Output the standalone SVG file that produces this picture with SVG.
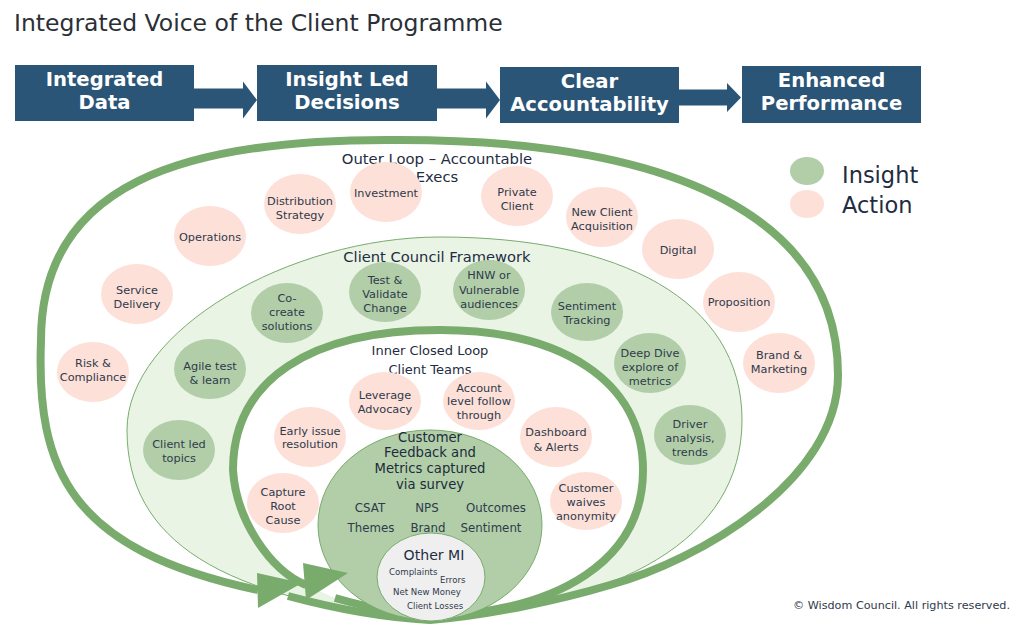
<svg xmlns="http://www.w3.org/2000/svg" width="1024" height="635" viewBox="0 0 1024 635">
<style>
text{font-family:"DejaVu Sans","Open Sans",sans-serif;}
.title{font-size:23.5px;fill:#2b2f36;}
.box{fill:#2b5577;}
.bt{font-size:19.6px;font-weight:700;fill:#ffffff;text-anchor:middle;}
.act{fill:#fde0d8;}
.ins{fill:#b1cea8;}
.nt{font-size:11.3px;fill:#2f3a4b;text-anchor:middle;}
.mt{font-size:11.8px;fill:#2f3a4b;text-anchor:middle;}
.cf{font-size:13.2px;fill:#1d2b3c;text-anchor:middle;}
.sm{font-size:8.6px;fill:#2f3a4b;}
.lbl{fill:#1f2c42;text-anchor:middle;}
.loop{fill:none;stroke:#79ab6d;stroke-width:8;stroke-linecap:butt;}
.ahead{fill:#79ab6d;}
.barrow{fill:#2b5577;}
</style>
<rect x="0" y="0" width="1024" height="635" fill="#ffffff"/>
<text class="title" x="14" y="31">Integrated Voice of the Client Programme</text>

<g id="steps">
  <g id="step-integrated-data">
    <rect class="box" x="15" y="65" width="179" height="56"/>
    <text class="bt" x="104.5" y="85.5">Integrated</text>
    <text class="bt" x="104.5" y="108.5">Data</text>
  </g>
  <g id="step-insight-led">
    <rect class="box" x="257" y="65" width="180" height="56"/>
    <text class="bt" x="347" y="85.5">Insight Led</text>
    <text class="bt" x="347" y="108.5">Decisions</text>
  </g>
  <g id="step-clear-accountability">
    <rect class="box" x="500" y="67" width="179" height="56"/>
    <text class="bt" x="589.5" y="87.5">Clear</text>
    <text class="bt" x="589.5" y="110.5">Accountability</text>
  </g>
  <g id="step-enhanced-performance">
    <rect class="box" x="742" y="66" width="179" height="57"/>
    <text class="bt" x="831.5" y="86.5">Enhanced</text>
    <text class="bt" x="831.5" y="109.5">Performance</text>
  </g>
</g>

<g id="connectors">
  <polygon class="barrow" points="194,88.5 243,88.5 243,81.5 257,100 243,118.5 243,108.5 194,108.5"/>
  <polygon class="barrow" points="437,88.5 486,88.5 486,81.5 500,100 486,118.5 486,108.5 437,108.5"/>
  <polygon class="barrow" points="679,89.5 727,89.5 727,83 741,97.5 727,112 727,105.5 679,105.5"/>
</g>

<g id="client-council-band">
  <path d="M430,620 C620,605 742,540 742,420 C742,300 620,237 440,237 C290,237 127,330 127,430 C127,540 220,600 430,620 Z" fill="#e9f4e5" stroke="#79ab6d" stroke-width="1"/>
</g>

<g id="loops">
  <path id="outer-loop" class="loop" d="M288,596 C340,610 390,618 430,620 C490,615 560,600 610,585 C700,560 838,480 838,375 C838,220 680,140 400,140 C180,138 41,185 41,340 C36,470 70,550 258,590"/>
  <path id="inner-loop" class="loop" style="fill:#ffffff" d="M335,598 C370,608 400,614 430,616 C560,612 643,560 643,470 C643,380 560,330 440,330 C310,330 233,380 233,470 C236,520 270,570 306,585"/>
</g>

<g id="customer-feedback">
  <ellipse cx="430" cy="525" rx="112" ry="95" fill="#b1cea8" stroke="#79ab6d" stroke-width="1"/>
  <text class="cf" x="430" y="441.5">Customer</text>
  <text class="cf" x="430" y="457">Feedback and</text>
  <text class="cf" x="430" y="473">Metrics captured</text>
  <text class="cf" x="430" y="489">via survey</text>
  <text class="mt" x="370" y="511.5">CSAT</text>
  <text class="mt" x="427" y="511.5">NPS</text>
  <text class="mt" x="496" y="511.5">Outcomes</text>
  <text class="mt" x="371" y="531.5">Themes</text>
  <text class="mt" x="428" y="531.5">Brand</text>
  <text class="mt" x="491" y="531.5">Sentiment</text>
</g>

<g id="other-mi">
  <ellipse cx="431" cy="577" rx="54" ry="44" fill="#efefef" stroke="#79ab6d" stroke-width="1"/>
  <text class="lbl" style="font-size:14.1px" x="434" y="560">Other MI</text>
  <text class="sm" x="389" y="575">Complaints</text>
  <text class="sm" x="440" y="582.5">Errors</text>
  <text class="sm" x="393" y="595">Net New Money</text>
  <text class="sm" x="407" y="609">Client Losses</text>
</g>

<g id="loop-arrowheads">
  <polygon class="ahead" points="257,573 302,583 258,608"/>
  <polygon class="ahead" points="303,563 348,573 306,600"/>
</g>

<g id="labels">
  <text class="lbl" style="font-size:14.8px" x="437" y="163.5">Outer Loop – Accountable</text>
  <text class="lbl" style="font-size:14.8px" x="437" y="181.5">Execs</text>
  <text class="lbl" style="font-size:14.7px" x="437" y="261.5">Client Council Framework</text>
  <text class="lbl" style="font-size:13px" x="430" y="355">Inner Closed Loop</text>
  <text class="lbl" style="font-size:13px" x="430" y="374">Client Teams</text>
</g>

<!-- Outer loop: actions -->
<g id="node-distribution-strategy"><ellipse class="act" cx="300" cy="204" rx="36" ry="30"/><text class="nt" x="300" y="204.5">Distribution</text><text class="nt" x="300" y="218.5">Strategy</text></g>
<g id="node-operations"><ellipse class="act" cx="210" cy="236" rx="36" ry="30"/><text class="nt" x="210" y="241">Operations</text></g>
<g id="node-service-delivery"><ellipse class="act" cx="137" cy="294" rx="36" ry="30"/><text class="nt" x="137" y="293.5">Service</text><text class="nt" x="137" y="307.5">Delivery</text></g>
<g id="node-risk-compliance"><ellipse class="act" cx="93" cy="372" rx="36" ry="30"/><text class="nt" x="93" y="367">Risk &amp;</text><text class="nt" x="93" y="381">Compliance</text></g>
<g id="node-investment"><ellipse class="act" cx="386" cy="192" rx="36" ry="30"/><text class="nt" x="386" y="197">Investment</text></g>
<g id="node-private-client"><ellipse class="act" cx="517" cy="196" rx="36" ry="30"/><text class="nt" x="517" y="196">Private</text><text class="nt" x="517" y="210">Client</text></g>
<g id="node-new-client-acquisition"><ellipse class="act" cx="602" cy="217" rx="36" ry="30"/><text class="nt" x="602" y="216">New Client</text><text class="nt" x="602" y="230">Acquisition</text></g>
<g id="node-digital"><ellipse class="act" cx="678" cy="249" rx="36" ry="30"/><text class="nt" x="678" y="254">Digital</text></g>
<g id="node-proposition"><ellipse class="act" cx="739" cy="302" rx="36" ry="30"/><text class="nt" x="739" y="306">Proposition</text></g>
<g id="node-brand-marketing"><ellipse class="act" cx="779" cy="363" rx="36" ry="30"/><text class="nt" x="779" y="359">Brand &amp;</text><text class="nt" x="779" y="373">Marketing</text></g>

<!-- Client council: insights -->
<g id="node-co-create"><ellipse class="ins" cx="287" cy="313" rx="36" ry="30"/><text class="nt" x="287" y="302">Co-</text><text class="nt" x="287" y="316">create</text><text class="nt" x="287" y="330">solutions</text></g>
<g id="node-agile-test"><ellipse class="ins" cx="210" cy="369" rx="36" ry="30"/><text class="nt" x="210" y="370">Agile test</text><text class="nt" x="210" y="383.5">&amp; learn</text></g>
<g id="node-test-validate"><ellipse class="ins" cx="385" cy="292" rx="36" ry="30"/><text class="nt" x="385" y="284">Test &amp;</text><text class="nt" x="385" y="298">Validate</text><text class="nt" x="385" y="312">Change</text></g>
<g id="node-hnw"><ellipse class="ins" cx="489" cy="290" rx="36" ry="30"/><text class="nt" x="489" y="279">HNW or</text><text class="nt" x="489" y="293.5">Vulnerable</text><text class="nt" x="489" y="307.5">audiences</text></g>
<g id="node-sentiment-tracking"><ellipse class="ins" cx="587" cy="312" rx="36" ry="29"/><text class="nt" x="587" y="310">Sentiment</text><text class="nt" x="587" y="324">Tracking</text></g>
<g id="node-deep-dive"><ellipse class="ins" cx="650" cy="363" rx="36" ry="30"/><text class="nt" x="650" y="357">Deep Dive</text><text class="nt" x="650" y="371">explore of</text><text class="nt" x="650" y="385">metrics</text></g>
<g id="node-driver-analysis"><ellipse class="ins" cx="690" cy="435" rx="36" ry="30"/><text class="nt" x="690" y="427.5">Driver</text><text class="nt" x="690" y="441.5">analysis,</text><text class="nt" x="690" y="455.5">trends</text></g>
<g id="node-client-led"><ellipse class="ins" cx="179" cy="450" rx="36" ry="30"/><text class="nt" x="179" y="447.5">Client led</text><text class="nt" x="179" y="461.5">topics</text></g>

<!-- Inner loop: actions -->
<g id="node-leverage-advocacy"><ellipse class="act" cx="385" cy="401" rx="36" ry="29"/><text class="nt" x="385" y="398.5">Leverage</text><text class="nt" x="385" y="412.5">Advocacy</text></g>
<g id="node-account-level"><ellipse class="act" cx="479" cy="401" rx="36" ry="29"/><text class="nt" x="479" y="391.5">Account</text><text class="nt" x="479" y="405">level follow</text><text class="nt" x="479" y="418.5">through</text></g>
<g id="node-early-issue"><ellipse class="act" cx="310" cy="437" rx="36" ry="30"/><text class="nt" x="310" y="434.5">Early issue</text><text class="nt" x="310" y="448">resolution</text></g>
<g id="node-dashboard"><ellipse class="act" cx="556" cy="437" rx="36" ry="30"/><text class="nt" x="556" y="435.5">Dashboard</text><text class="nt" x="556" y="451">&amp; Alerts</text></g>
<g id="node-capture-root"><ellipse class="act" cx="283" cy="503" rx="36" ry="30"/><text class="nt" x="283" y="495.5">Capture</text><text class="nt" x="283" y="509.5">Root</text><text class="nt" x="283" y="523.5">Cause</text></g>
<g id="node-customer-waives"><ellipse class="act" cx="586" cy="501" rx="36" ry="29"/><text class="nt" x="586" y="491.5">Customer</text><text class="nt" x="586" y="505.5">waives</text><text class="nt" x="586" y="519.5">anonymity</text></g>

<g id="legend">
  <ellipse class="ins" cx="807" cy="171" rx="17" ry="14"/>
  <ellipse class="act" cx="807" cy="204" rx="17" ry="14"/>
  <text style="font-size:22.5px;fill:#1f2c42" x="842" y="183">Insight</text>
  <text style="font-size:22.5px;fill:#1f2c42" x="842" y="213">Action</text>
</g>

<text style="font-size:11.2px;fill:#2f3a4b" x="793" y="609">© Wisdom Council. All rights reserved.</text>
</svg>
